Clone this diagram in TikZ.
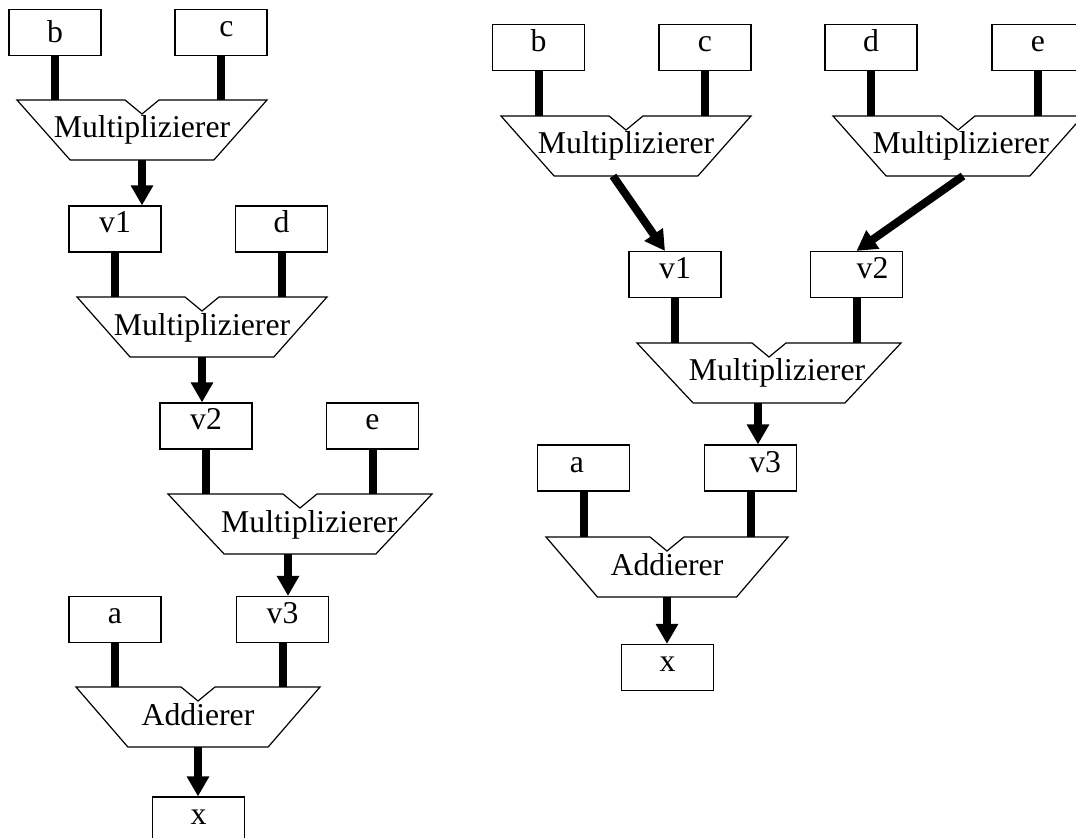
\documentclass[tikz,border=0pt]{standalone}
\usepackage{fontspec}
\setmainfont{Liberation Serif}
\usetikzlibrary{arrows.meta,calc}

% operator block: trapezium with a notch in the top edge
% #1 name, #2 centre x, #3 top y, #4 half top width, #5 label options, #6 label
\newcommand{\opblock}[6]{%
  \draw[opshape] (#2-#4,#3) -- (#2-17,#3) -- (#2,#3+14) -- (#2+17,#3) -- (#2+#4,#3)
    -- (#2+0.575*#4,#3+60) -- (#2-0.575*#4,#3+60) -- cycle;
  \node[oplabel,#5] (#1) at (#2,#3+34) {#6};
  \coordinate (#1-in) at (#2,#3);
  \coordinate (#1-out) at (#2,#3+60);
}

\begin{document}
\begin{tikzpicture}[
    x=0.75pt, y=-0.75pt,
    every node/.style={font=\fontsize{23.8}{28}\selectfont},
    every label/.style={inner sep=0pt, text height=12pt, text depth=6pt},
    box/.style={
        draw, line width=0.9pt, inner sep=0pt,
        minimum width=69pt, minimum height=34.5pt,
        text height=12pt, text depth=6pt
    },
    opshape/.style={draw, line width=0.9pt, fill=white},
    oplabel/.style={inner sep=0pt, text height=12pt, text depth=6pt},
    bus/.style={line width=6pt},
    flow/.style={line width=6pt, -{Triangle[length=15pt,width=16pt]}}
]
\useasboundingbox (0,0) rectangle (1076,838);

% Sequential chain
\node[box, label={[yshift=-4.5pt]center:b}] (lb) at (55,32.5) {};
\node[box, label={[xshift=4pt]center:c}] (lc) at (221,32.5) {};
\opblock{lm1}{142}{100}{125}{}{Multiplizierer}

\node[box] (lv1) at (115,229) {v1};
\node[box] (ld) at (281.5,229) {d};
\opblock{lm2}{202}{297}{125}{}{Multiplizierer}

\node[box] (lv2) at (206,426) {v2};
\node[box] (le) at (372.5,426) {e};
\opblock{lm3}{300}{494}{132}{xshift=7pt}{Multiplizierer}

\node[box] (la) at (115,619.5) {a};
\node[box] (lv3) at (282.5,619.5) {v3};
\opblock{ladd}{198}{687}{122}{}{Addierer}

\node[box] (lx) at (198.5,820) {x};

% Tree
\node[box] (rb) at (538.5,47.5) {b};
\node[box] (rc) at (705,47.5) {c};
\node[box] (rd) at (871,47.5) {d};
\node[box] (re) at (1038,47.5) {e};
\opblock{rm1}{626}{116}{125}{}{Multiplizierer}
\opblock{rm2}{958}{116}{125}{xshift=2pt}{Multiplizierer}

\node[box] (rv1) at (675,274.5) {v1};
\node[box, label={[xshift=12pt]center:v2}] (rv2) at (856.5,274.5) {};
\opblock{rm3}{769}{343}{132}{xshift=6pt}{Multiplizierer}

\node[box, label={[xshift=-5pt]center:a}] (ra) at (583.5,468) {};
\node[box, label={[xshift=11pt]center:v3}] (rv3) at (750.5,468) {};
\opblock{radd}{667}{537}{121}{}{Addierer}

\node[box] (rx) at (667.5,667.5) {x};

% Inputs
\draw[bus] (lb) -- (lb |- lm1-in);
\draw[bus] (lc) -- (lc |- lm1-in);
\draw[bus] (lv1) -- (lv1 |- lm2-in);
\draw[bus] (ld) -- (ld |- lm2-in);
\draw[bus] (lv2) -- (lv2 |- lm3-in);
\draw[bus] (le) -- (le |- lm3-in);
\draw[bus] (la) -- (la |- ladd-in);
\draw[bus] (lv3) -- (lv3 |- ladd-in);

\draw[bus] (rb) -- (rb |- rm1-in);
\draw[bus] (rc) -- (rc |- rm1-in);
\draw[bus] (rd) -- (rd |- rm2-in);
\draw[bus] (re) -- (re |- rm2-in);
\draw[bus] (rv1) -- (rv1 |- rm3-in);
\draw[bus] (rv2) -- (rv2 |- rm3-in);
\draw[bus] (ra) -- (ra |- radd-in);
\draw[bus] (rv3) -- (rv3 |- radd-in);

% Results
\coordinate (lm3-o) at ($(lm3-out)+(-12,0)$);
\coordinate (rm3-o) at ($(rm3-out)+(-11,0)$);

\draw[flow] (lm1-out) -- (lm1-out |- lv1.north);
\draw[flow] (lm2-out) -- (lm2-out |- lv2.north);
\draw[flow] (lm3-o) -- (lm3-o |- lv3.north);
\draw[flow] (ladd-out) -- (ladd-out |- lx.north);

\draw[flow] ($(rm1-out)+(-13,0)$) -- ($(rv1.north)+(-10,0)$);
\draw[flow] ($(rm2-out)+(5,0)$) -- (rv2.north);
\draw[flow] (rm3-o) -- (rm3-o |- rv3.north);
\draw[flow] (radd-out) -- (radd-out |- rx.north);

\end{tikzpicture}
\end{document}
